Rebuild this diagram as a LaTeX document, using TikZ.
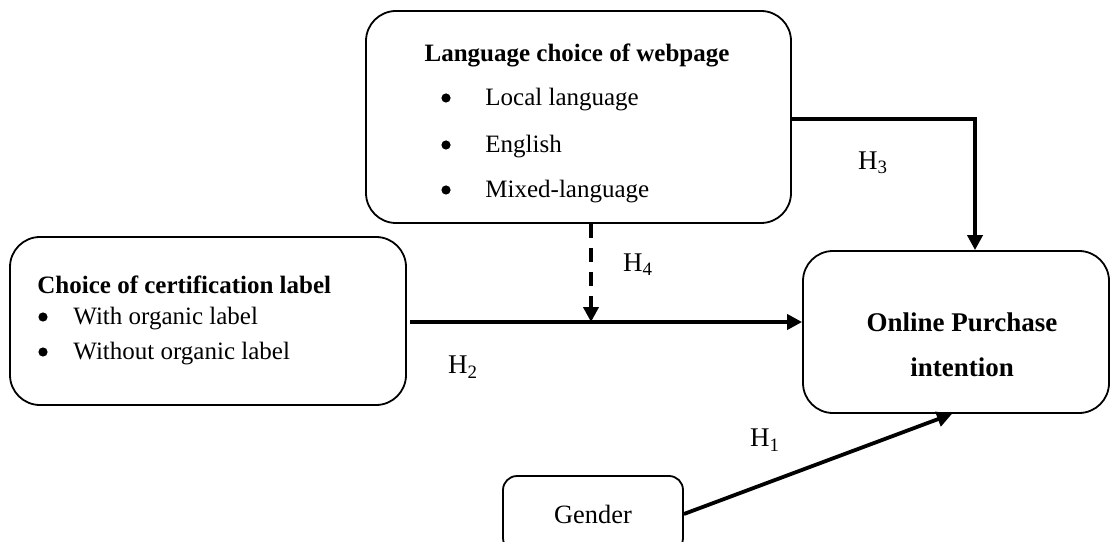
\documentclass[tikz,border=0pt]{standalone}
\usepackage{fontspec}
\setmainfont{Liberation Serif}
\usetikzlibrary{arrows.meta, positioning}

\begin{document}
\begin{tikzpicture}[
  x=50pt, y=50pt,
  box/.style={draw, line width=0.9pt, rounded corners=15pt, inner sep=0pt},
  item/.style={font=\fontsize{12.5}{15}\selectfont, inner sep=0pt, anchor=west},
  dot/.style={circle, fill, inner sep=0pt, minimum size=4.6pt},
  title/.style={font=\fontsize{12.5}{15}\selectfont\bfseries, inner sep=0pt},
  hyp/.style={font=\fontsize{13.5}{16}\selectfont, inner sep=0pt},
  arrow/.style={-{Triangle[length=7.5pt, width=7.5pt]}, line width=1.9pt},
]
\clip (0,0) rectangle (11.11,5.41);

% ============ boxes ============
\node[box, minimum width=212.5pt, minimum height=106pt] (lang)   at (5.785,4.24) {};
\node[box, minimum width=198pt,   minimum height=84pt]  (choice) at (2.08,2.20)  {};
\node[box, minimum width=153pt,   minimum height=81pt]  (online) at (9.56,2.09)  {};
\node[box, minimum width=90pt,    minimum height=38pt, rounded corners=7pt,
      font=\fontsize{13.2}{16}\selectfont] (gender) at (5.93,0.27) {Gender};

% ============ texts in the boxes ============
\node[title] (langtitle) at (5.77,4.86) {Language choice of webpage};
\node[dot] (b1) at (4.46,4.43) {};
\node[dot] (b2) at (4.46,3.96) {};
\node[dot] (b3) at (4.46,3.51) {};
\node[item] (local)   at (4.85,4.41) {Local language};
\node[item] (english) at (4.85,3.94) {English};
\node[item] (mixed)   at (4.85,3.49) {Mixed-language};

\node[title, anchor=west] (choicetitle) at (0.37,2.56) {Choice of certification label};
\node[dot] (b4) at (0.43,2.24) {};
\node[dot] (b5) at (0.43,1.89) {};
\node[item] (withlab)    at (0.73,2.22) {With organic label};
\node[item] (withoutlab) at (0.73,1.87) {Without organic label};

\node[title, font=\fontsize{13.5}{16}\selectfont\bfseries] (online1) at (9.62,2.19) {Online Purchase};
\node[title, font=\fontsize{13.5}{16}\selectfont\bfseries] (online2) at (9.62,1.74) {intention};

% ============ connectors ============
\coordinate (turn) at (9.75,4.22);
\coordinate (mod)  at (5.91,2.19);
\draw[arrow] (lang.east |- turn) -- (turn) -- (turn |- online.north);
\draw[arrow] ([xshift=1.5pt]choice.east |- mod) -- (mod -| online.west);
\draw[arrow, dash pattern=on 7pt off 5pt] (lang.south -| mod) -- (mod);
\draw[arrow] (gender.east) -- ([xshift=-2pt]online.south);

\node[hyp] (h3) at (8.73,3.78) {H\textsubscript{3}};
\node[hyp] (h4) at (6.38,2.76) {H\textsubscript{4}};
\node[hyp] (h2) at (4.63,1.74) {H\textsubscript{2}};
\node[hyp] (h1) at (7.65,1.01) {H\textsubscript{1}};

\end{tikzpicture}
\end{document}
